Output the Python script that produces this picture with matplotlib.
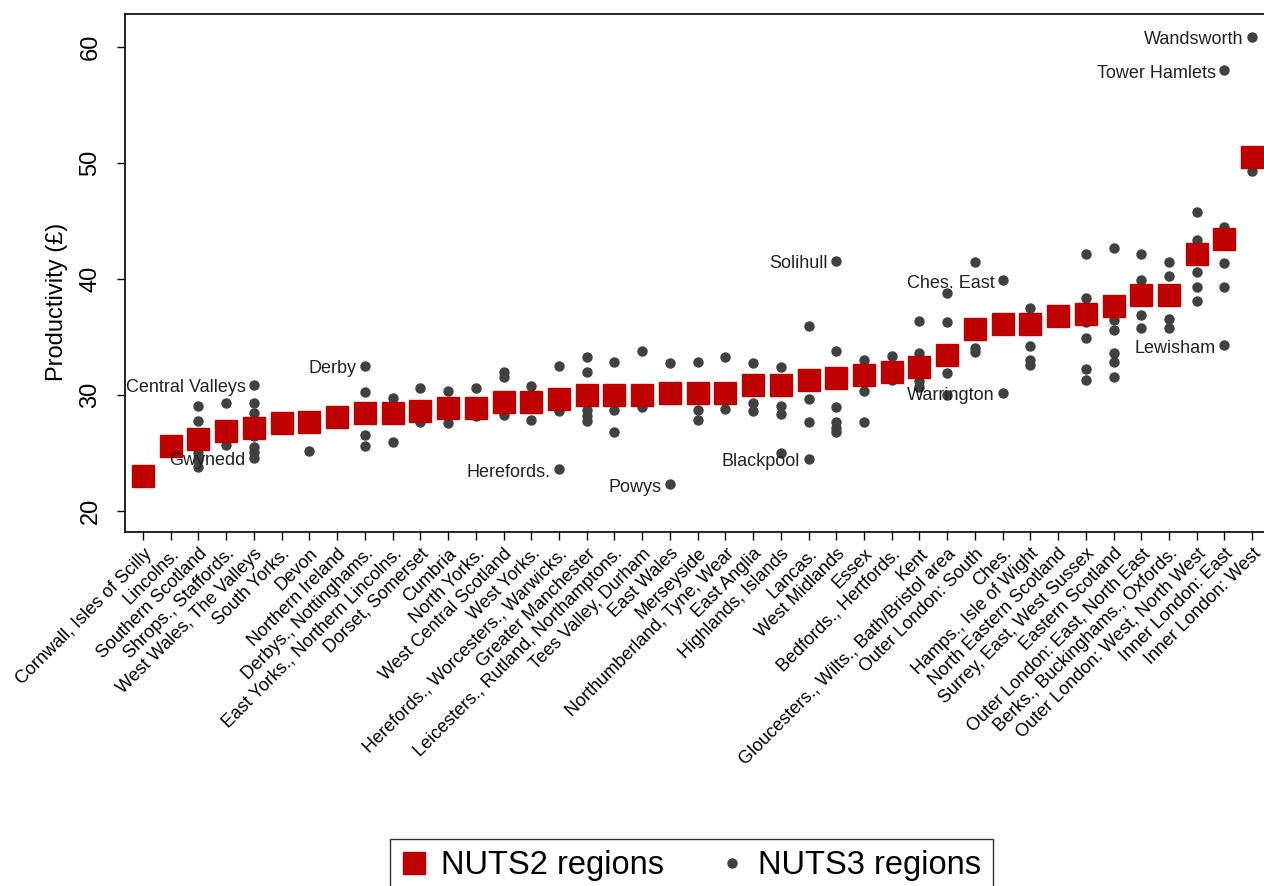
import matplotlib.pyplot as plt
import numpy as np

plt.rcParams['font.family'] = ['Liberation Sans', 'DejaVu Sans']

regions = ["Cornwall, Isles of Scilly", "Lincolns.", "Southern Scotland", "Shrops., Staffords.",
           "West Wales, The Valleys", "South Yorks.", "Devon", "Northern Ireland",
           "Derbys., Nottinghams.", "East Yorks., Northern Lincolns.", "Dorset, Somerset", "Cumbria",
           "North Yorks.", "West Central Scotland", "West Yorks.", "Herefords., Worcesters., Warwicks.",
           "Greater Manchester", "Leicesters., Rutland, Northamptons.", "Tees Valley, Durham", "East Wales",
           "Merseyside", "Northumberland, Tyne, Wear", "East Anglia", "Highlands, Islands", "Lancas.",
           "West Midlands", "Essex", "Bedfords., Hertfords.", "Kent", "Gloucesters., Wilts., Bath/Bristol area",
           "Outer London: South", "Ches.", "Hamps., Isle of Wight", "North Eastern Scotland",
           "Surrey, East, West Sussex", "Eastern Scotland", "Outer London: East, North East",
           "Berks., Buckinghams., Oxfords.", "Outer London: West, North West", "Inner London: East",
           "Inner London: West"]

nuts2 = [23.0, 25.6, 26.2, 26.9, 27.2, 27.6, 27.7, 28.1, 28.5, 28.5, 28.6, 28.9, 28.9, 29.4, 29.4,
         29.7, 30.0, 30.0, 30.0, 30.2, 30.2, 30.2, 30.9, 30.9, 31.3, 31.5, 31.7, 32.0, 32.4, 33.5,
         35.7, 36.1, 36.1, 36.8, 37.0, 37.7, 38.6, 38.6, 42.2, 43.5, 50.5]

nuts3 = [[], [], [29.1, 27.8, 25.0, 24.4, 23.8], [29.3, 27.3, 25.7],
         [30.9, 29.3, 28.5, 27.8, 26.5, 25.5, 25.1, 24.6], [], [25.2], [],
         [32.5, 30.3, 26.6, 25.6], [29.8, 26.0], [30.6, 27.7], [30.4, 27.6],
         [30.6, 28.2], [32.0, 31.6, 28.3], [30.8, 27.9], [32.5, 28.6, 23.6],
         [33.3, 32.0, 28.7, 28.2, 27.8], [32.9, 28.7, 26.8], [33.8, 29.0], [32.8, 22.3],
         [32.9, 28.7, 27.9], [33.3, 28.8], [32.8, 29.3, 28.6], [32.4, 29.1, 28.4, 25.0],
         [36.0, 29.7, 27.7, 24.5], [41.6, 33.8, 29.0, 27.7, 27.2, 26.8], [33.0, 30.4, 27.7],
         [33.4, 31.3], [36.4, 33.6, 31.2, 30.7], [38.8, 36.3, 31.9, 30.0],
         [41.5, 34.1, 33.7], [39.9, 30.2], [37.5, 34.2, 33.0, 32.6], [],
         [42.2, 38.4, 36.3, 34.9, 32.3, 31.3], [42.7, 36.5, 35.6, 33.6, 32.9, 31.6],
         [42.2, 39.9, 36.9, 35.8], [41.5, 40.3, 36.6, 35.8], [45.8, 43.4, 40.6, 39.3, 38.1],
         [58.0, 44.5, 41.4, 39.3, 34.3], [60.9, 49.3]]

label_names = ["Central Valleys", "Gwynedd", "Derby", "Herefords.", "Powys", "Blackpool", "Solihull",
               "Ches. East", "Warrington", "Lewisham", "Tower Hamlets", "Wandsworth"]
label_region = [4, 4, 8, 15, 19, 24, 25, 31, 31, 39, 39, 40]
label_value = [30.9, 24.6, 32.5, 23.6, 22.3, 24.5, 41.6, 39.9, 30.2, 34.3, 58.0, 60.9]

x = np.arange(len(regions))
dx, dy = [], []
for i, vals in enumerate(nuts3):
    for v in vals:
        dx.append(i)
        dy.append(v)

fig = plt.figure(figsize=(12.64, 8.86), dpi=100)
ax = fig.add_axes([0.0989, 0.3995, 0.906, 0.5845])

ax.plot(dx, dy, 'o', color='#404040', markersize=6.5, linestyle='none', zorder=2, label="NUTS3 regions")
ax.plot(x, nuts2, 's', color='#c00000', markersize=16, linestyle='none', zorder=3, label="NUTS2 regions")

for name, r, v in zip(label_names, label_region, label_value):
    ax.annotate(name, (r, v), xytext=(-6, -2), textcoords='offset points',
                ha='right', va='center', fontsize=13, color='#222222', zorder=4)

ax.set_xlim(-0.65, 40.65)
ax.set_ylim(18.2, 62.85)
ax.set_yticks([20, 30, 40, 50, 60])
ax.set_yticklabels(["20", "30", "40", "50", "60"], rotation=90, va='center', fontsize=17)
ax.set_xticks(x)
ax.set_xticklabels(regions, rotation=45, ha='right', rotation_mode='anchor', fontsize=13)
ax.tick_params(axis='both', direction='out', length=6, width=1, color='black')
ax.tick_params(axis='y', pad=11)
ax.set_ylabel("Productivity (£)", fontsize=17)
ax.yaxis.set_label_coords(-0.05, 0.444)
for s in ax.spines.values():
    s.set_linewidth(1.2)

h, l = ax.get_legend_handles_labels()
leg = fig.legend([h[1], h[0]], [l[1], l[0]], loc='upper left', ncol=2,
                 bbox_to_anchor=(390 / 1264, 1 - 839 / 886), borderaxespad=0, fontsize=23.5,
                 frameon=True, fancybox=False, edgecolor='black', handlelength=0.8,
                 handletextpad=0.4, columnspacing=1.7, borderpad=0.35)
leg.get_frame().set_linewidth(1.0)

fig.savefig("out.png", dpi=100)
